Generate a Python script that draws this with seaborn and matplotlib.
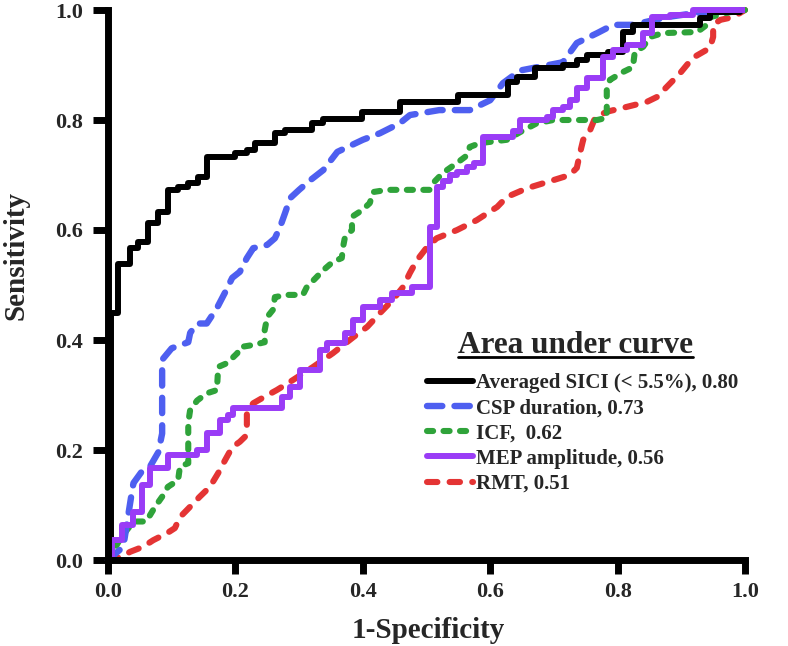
import numpy as np
import pandas as pd
import matplotlib
matplotlib.use('Agg')
import matplotlib.pyplot as plt
from matplotlib.lines import Line2D
import seaborn as sns

# ROC curves (1-specificity, sensitivity)
sici_x = [0, 0.005, 0.016, 0.035, 0.047, 0.063, 0.078, 0.094, 0.11, 0.126, 0.141, 0.155, 0.2, 0.218, 0.231,
          0.262, 0.278, 0.32, 0.338, 0.399, 0.458, 0.549, 0.628, 0.642, 0.67, 0.714, 0.736, 0.752, 0.785, 0.808,
          0.824, 0.929, 0.945, 0.992, 1.0]
sici_y = [0, 0.45, 0.538, 0.567, 0.578, 0.613, 0.633, 0.673, 0.678, 0.685, 0.696, 0.733, 0.74, 0.745, 0.758,
          0.776, 0.782, 0.795, 0.802, 0.815, 0.833, 0.845, 0.869, 0.878, 0.895, 0.9, 0.909, 0.918, 0.924, 0.96,
          0.973, 0.985, 0.996, 1.0, 1.0]

csp_x = [0, 0.024, 0.037, 0.04, 0.055, 0.066, 0.079, 0.085, 0.085, 0.10, 0.126, 0.129, 0.14, 0.155, 0.171,
         0.184, 0.195, 0.207, 0.218, 0.228, 0.25, 0.262, 0.27, 0.278, 0.286, 0.30, 0.317, 0.338, 0.36, 0.40,
         0.427, 0.458, 0.474, 0.52, 0.568, 0.60, 0.62, 0.647, 0.714, 0.736, 0.768, 0.793, 0.824, 0.877, 0.925, 1.0]
csp_y = [0, 0.024, 0.12, 0.14, 0.164, 0.17, 0.196, 0.23, 0.364, 0.385, 0.396, 0.413, 0.43, 0.43, 0.458,
         0.487, 0.513, 0.524, 0.549, 0.567, 0.573, 0.585, 0.605, 0.631, 0.658, 0.673, 0.69, 0.709, 0.742, 0.764,
         0.776, 0.794, 0.809, 0.818, 0.818, 0.836, 0.867, 0.89, 0.905, 0.94, 0.958, 0.973, 0.973, 0.987, 0.995, 1.0]

icf_x = [0, 0.02, 0.04, 0.06, 0.074, 0.085, 0.094, 0.11, 0.113, 0.126, 0.126, 0.129, 0.14, 0.155, 0.171,
         0.173, 0.187, 0.203, 0.207, 0.228, 0.246, 0.246, 0.25, 0.259, 0.262, 0.281, 0.306, 0.312, 0.328, 0.338,
         0.353, 0.367, 0.369, 0.372, 0.383, 0.383, 0.399, 0.411, 0.416, 0.438, 0.505, 0.51, 0.526, 0.548, 0.564,
         0.568, 0.584, 0.626, 0.647, 0.673, 0.699, 0.768, 0.783, 0.783, 0.788, 0.808, 0.824, 0.827, 0.84, 0.851,
         0.871, 0.925, 0.94, 0.945, 0.976, 1.0]
icf_y = [0, 0.04, 0.07, 0.07, 0.097, 0.115, 0.133, 0.145, 0.17, 0.176, 0.25, 0.273, 0.29, 0.303, 0.309,
         0.351, 0.358, 0.376, 0.387, 0.391, 0.396, 0.418, 0.442, 0.455, 0.478, 0.482, 0.482, 0.496, 0.515, 0.527,
         0.542, 0.549, 0.569, 0.587, 0.6, 0.624, 0.636, 0.649, 0.669, 0.673, 0.673, 0.685, 0.704, 0.722, 0.736,
         0.751, 0.758, 0.764, 0.778, 0.794, 0.8, 0.8, 0.804, 0.855, 0.873, 0.887, 0.896, 0.924, 0.933, 0.951,
         0.958, 0.96, 0.973, 0.987, 0.996, 1.0]

mep_x = [0, 0.006, 0.022, 0.04, 0.053, 0.066, 0.094, 0.14, 0.155, 0.176, 0.188, 0.196, 0.273, 0.286, 0.301,
         0.333, 0.344, 0.372, 0.385, 0.40, 0.427, 0.446, 0.477, 0.505, 0.516, 0.526, 0.537, 0.548, 0.564, 0.575,
         0.589, 0.636, 0.647, 0.689, 0.699, 0.714, 0.725, 0.736, 0.752, 0.777, 0.793, 0.815, 0.84, 0.854, 0.882,
         0.918, 1.0]
mep_y = [0, 0.036, 0.064, 0.087, 0.136, 0.167, 0.191, 0.2, 0.231, 0.255, 0.264, 0.276, 0.296, 0.315, 0.345,
         0.382, 0.395, 0.413, 0.436, 0.46, 0.473, 0.485, 0.496, 0.605, 0.678, 0.69, 0.70, 0.705, 0.715, 0.722,
         0.769, 0.78, 0.8, 0.805, 0.818, 0.824, 0.836, 0.858, 0.876, 0.915, 0.927, 0.936, 0.958, 0.987, 0.991,
         1.0, 1.0]

rmt_x = [0, 0.019, 0.035, 0.055, 0.071, 0.093, 0.105, 0.113, 0.124, 0.144, 0.16, 0.173, 0.184, 0.195, 0.207,
         0.215, 0.218, 0.218, 0.228, 0.243, 0.265, 0.29, 0.322, 0.353, 0.385, 0.407, 0.427, 0.447, 0.463, 0.474,
         0.485, 0.501, 0.516, 0.548, 0.579, 0.611, 0.626, 0.658, 0.689, 0.725, 0.736, 0.741, 0.746, 0.757, 0.765,
         0.783, 0.808, 0.846, 0.862, 0.877, 0.898, 0.918, 0.945, 0.95, 0.95, 0.961, 0.981, 1.0]
rmt_y = [0, 0.005, 0.015, 0.024, 0.036, 0.049, 0.058, 0.078, 0.091, 0.115, 0.133, 0.158, 0.182, 0.205, 0.215,
         0.224, 0.242, 0.269, 0.285, 0.295, 0.309, 0.327, 0.351, 0.376, 0.405, 0.424, 0.449, 0.473, 0.496, 0.522,
         0.545, 0.569, 0.585, 0.6, 0.618, 0.642, 0.66, 0.676, 0.687, 0.7, 0.713, 0.74, 0.764, 0.782, 0.805,
         0.815, 0.822, 0.833, 0.842, 0.86, 0.885, 0.913, 0.931, 0.951, 0.973, 0.982, 0.987, 1.0]

labels = ['Averaged SICI (< 5.5%), 0.80', 'CSP duration, 0.73', 'ICF,  0.62',
          'MEP amplitude, 0.56', 'RMT, 0.51']

sns.set_style('ticks')
plt.rcParams['font.family'] = ['Liberation Serif', 'DejaVu Serif']
plt.rcParams['font.weight'] = 'bold'

W, H = 788, 646
fig = plt.figure(figsize=(W / 100, H / 100), dpi=100)
ax = fig.add_axes([108 / W, 1 - 560 / H, 637 / W, 550 / H])

# (x, y, color, lw, dashes, drawstyle)
curves = {
    'rmt': (rmt_x, rmt_y, '#e43434', 4.4, (1.7, 2.0), 'default'),
    'icf': (icf_x, icf_y, '#2fa33a', 4.4, (1.0, 1.7), 'default'),
    'csp': (csp_x, csp_y, '#4e5ff0', 4.6, (2.4, 1.9), 'default'),
    'sici': (sici_x, sici_y, 'black', 4.3, None, 'steps-post'),
    'mep': (mep_x, mep_y, '#9a3cf6', 4.3, None, 'steps-post'),
}

lines = {}
for name, (x, y, c, lw, dash, ds) in curves.items():
    df = pd.DataFrame({'x': x, 'y': y})
    sns.lineplot(data=df, x='x', y='y', ax=ax, sort=False, estimator=None,
                 color=c, lw=lw, drawstyle=ds, clip_on=False)
    ln = ax.lines[-1]
    if dash is not None:
        ln.set_dashes(dash)
        ln.set_dash_capstyle('round')
    else:
        ln.set_solid_capstyle('butt')
    lines[name] = ln

ax.set_xlim(0, 1)
ax.set_ylim(0, 1)
ticks = np.arange(0, 1.01, 0.2)
ax.set_xticks(ticks)
ax.set_yticks(ticks)
ax.set_xticklabels([f'{t:.1f}' for t in ticks])
ax.set_yticklabels([f'{t:.1f}' for t in ticks])
ax.tick_params(axis='both', width=5, color='black', labelsize=16)
ax.tick_params(axis='y', length=11, pad=7)
ax.tick_params(axis='x', length=10, pad=6)
for lab in ax.get_xticklabels() + ax.get_yticklabels():
    lab.set_fontweight('bold')
sns.despine(ax=ax)
for s in ['left', 'bottom']:
    ax.spines[s].set_linewidth(5)
    ax.spines[s].set_color('black')

ax.set_xlabel('1-Specificity', fontsize=21, fontweight='bold', va='center')
ax.xaxis.set_label_coords((428 - 108) / 637, (560 - 630) / 550)
ax.set_ylabel('Sensitivity', fontsize=21, fontweight='bold', va='center')
ax.yaxis.set_label_coords((16 - 108) / 637, (560 - 255) / 550)

order = ['sici', 'csp', 'icf', 'mep', 'rmt']
handles = []
for name in order:
    src = lines[name]
    h = Line2D([], [], color=src.get_color(), lw=src.get_linewidth())
    if curves[name][4] is not None:
        h.set_dashes(curves[name][4])
        h.set_dash_capstyle('round')
    handles.append(h)

leg = ax.legend(handles, labels, loc='upper left',
                bbox_to_anchor=(427 / W, 1 - 373 / H), bbox_transform=fig.transFigure,
                frameon=False, prop={'size': 15, 'weight': 'bold'},
                handlelength=2.2, handletextpad=0.15, labelspacing=0.25,
                borderpad=0, borderaxespad=0)

# legend heading, underlined
title = fig.text(575 / W, 1 - 353 / H, 'Area under curve', ha='center', va='baseline',
                 fontsize=22.5, fontweight='bold')
fig.canvas.draw()
bb = title.get_window_extent()
uy = 1 - 357 / H
fig.add_artist(Line2D([bb.x0 / W, bb.x1 / W], [uy, uy],
                      transform=fig.transFigure, color='black', lw=2))

fig.savefig('out.png', dpi=100)
